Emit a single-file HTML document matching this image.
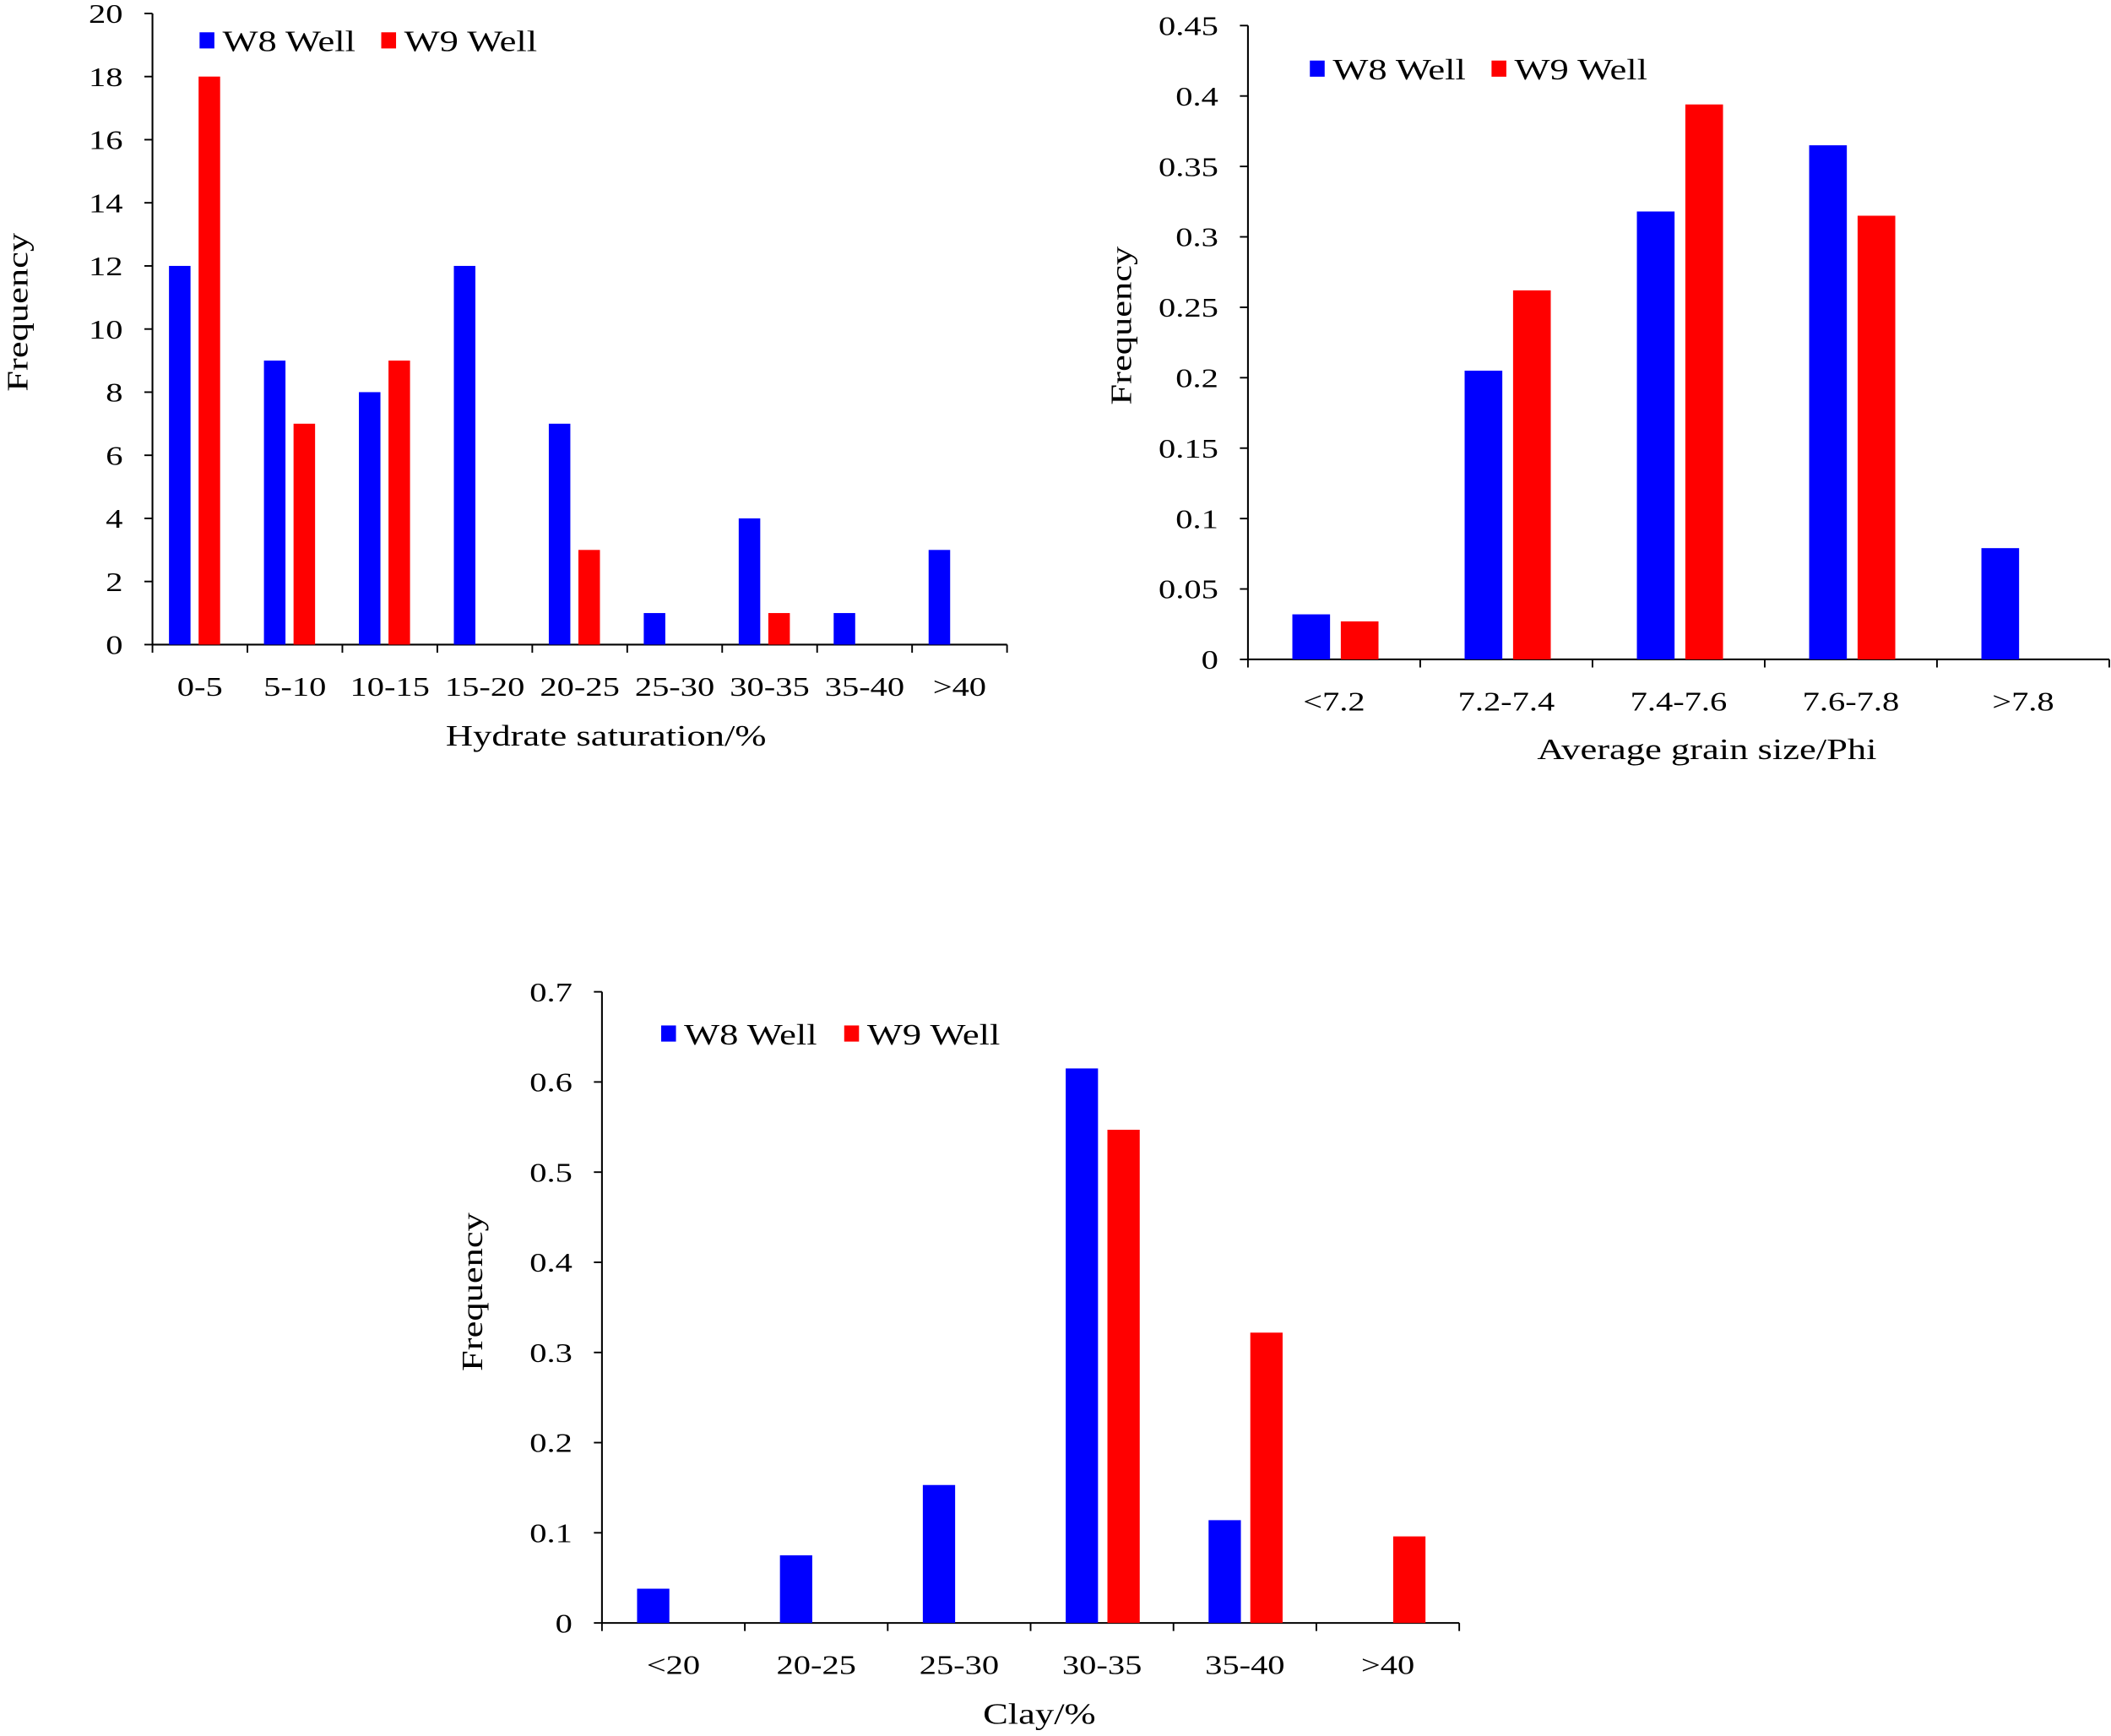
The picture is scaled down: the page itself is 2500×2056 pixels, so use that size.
<!DOCTYPE html>
<html><head><meta charset="utf-8"><style>
html,body{margin:0;padding:0;background:#fff;}
svg{display:block;}
text{font-family:"Liberation Serif",serif;fill:#000;}
</style></head><body>
<svg id="fig" width="2500" height="2056" viewBox="0 0 1568 1290" xmlns="http://www.w3.org/2000/svg"></svg>
<script>
// Chart 1 data
const c1Categories = ["0-5","5-10","10-15","15-20","20-25","25-30","30-35","35-40",">40"];
const c1W8 = [12,9,8,12,7,1,4,1,3];
const c1W9 = [18,7,9,0,3,0,1,0,0];
const c1Ticks = ["0","2","4","6","8","10","12","14","16","18","20"];
// Chart 2 data
const c2Categories = ["<7.2","7.2-7.4","7.4-7.6","7.6-7.8",">7.8"];
const c2W8 = [0.032,0.205,0.318,0.365,0.079];
const c2W9 = [0.027,0.262,0.394,0.315,0];
const c2Ticks = ["0","0.05","0.1","0.15","0.2","0.25","0.3","0.35","0.4","0.45"];
// Chart 3 data
const c3Categories = ["<20","20-25","25-30","30-35","35-40",">40"];
const c3W8 = [0.038,0.075,0.153,0.615,0.114,0];
const c3W9 = [0,0,0,0.547,0.322,0.096];
const c3Ticks = ["0","0.1","0.2","0.3","0.4","0.5","0.6","0.7"];

const NS="http://www.w3.org/2000/svg";
const svg=document.getElementById('fig');
const SX=1.27;
function mk(tag,attrs,parent,txt){const e=document.createElementNS(NS,tag);for(const k in attrs)e.setAttribute(k,attrs[k]);if(txt!==undefined)e.textContent=txt;(parent||svg).appendChild(e);return e;}
function txt(x,y,s,anchor,size,parent,rot){
  const t=mk('text',{x:0,y:0,'text-anchor':anchor,'font-size':size,transform:rot?`translate(${x},${y}) rotate(-90) scale(${SX},1)`:`translate(${x},${y}) scale(${SX},1)`},parent,s);
  return t;
}

function chart(o){
  const g=mk('g',{});
  
  
  const ymax=parseFloat(o.ticks[o.ticks.length-1]);
  const y=v=>o.y0-(v/ymax)*(o.y0-o.y1);
  const cw=(o.x1-o.x0)/o.cats.length;
  const cx=i=>o.x0+cw*(i+0.5);
  const ya=mk('line',{x1:o.x0,y1:o.y1,x2:o.x0,y2:o.y0,stroke:'#000','stroke-width':1.3},g);
  
  const xa=mk('line',{x1:o.x0,y1:o.y0,x2:o.x1,y2:o.y0,stroke:'#000','stroke-width':1.3},g);
  
  o.ticks.forEach(t=>{const yy=y(parseFloat(t));
    mk('line',{x1:o.x0-6,y1:yy,x2:o.x0,y2:yy,stroke:'#000','stroke-width':1.2},g);
    const tl=txt(o.x0-22,yy+7,t,'end',20,g);
    
  });
  for(let i=0;i<=o.cats.length;i++){const xx=o.x0+cw*i;mk('line',{x1:xx,y1:o.y0,x2:xx,y2:o.y0+6,stroke:'#000','stroke-width':1.2},g);}
  o.cats.forEach((c,i)=>{
    const tl=txt(cx(i),o.y0+38,c,'middle',20,g);
    
    if(o.w8[i]>0){const b=mk('rect',{x:cx(i)+o.bOff,y:y(o.w8[i]),width:o.bw,height:o.y0-y(o.w8[i]),fill:'#0000ff'},g);
      }
    if(o.w9[i]>0){const b=mk('rect',{x:cx(i)+o.rOff,y:y(o.w9[i]),width:o.bw,height:o.y0-y(o.w9[i]),fill:'#ff0000'},g);
      }
  });
  const xt=txt(o.xtX,o.xtY,o.xt,'middle',22,g);
  
  const yt=txt(o.ytX,o.ytY,'Frequency','middle',22,g,true);
  
  const l1=mk('rect',{x:o.lx1,y:o.ly-6,width:11,height:12,fill:'#0000ff'},g);
  
  const t1=txt(o.lx1+17,o.ly+8,'W8 Well','start',22,g);
  
  const l2=mk('rect',{x:o.lx2,y:o.ly-6,width:11,height:12,fill:'#ff0000'},g);
  
  const t2=txt(o.lx2+17,o.ly+8,'W9 Well','start',22,g);
  
}
chart({name:'hydrate-saturation-chart',cats:c1Categories,w8:c1W8,w9:c1W9,ticks:c1Ticks,x0:113,x1:748,y0:479,y1:10,bw:16,bOff:-23,rOff:-1,xt:'Hydrate saturation/%',xtX:450,xtY:554,ytX:20,ytY:232,lx1:148,lx2:283,ly:30});
chart({name:'grain-size-chart',cats:c2Categories,w8:c2W8,w9:c2W9,ticks:c2Ticks,x0:927,x1:1567,y0:490,y1:19,bw:28,bOff:-31,rOff:5,xt:'Average grain size/Phi',xtX:1268,xtY:564,ytX:840,ytY:242,lx1:973,lx2:1108,ly:51});
chart({name:'clay-chart',cats:c3Categories,w8:c3W8,w9:c3W9,ticks:c3Ticks,x0:447,x1:1084,y0:1206,y1:737,bw:24,bOff:-27,rOff:4,xt:'Clay/%',xtX:772,xtY:1281,ytX:358,ytY:960,lx1:491,lx2:627,ly:768});
</script>
</body></html>
